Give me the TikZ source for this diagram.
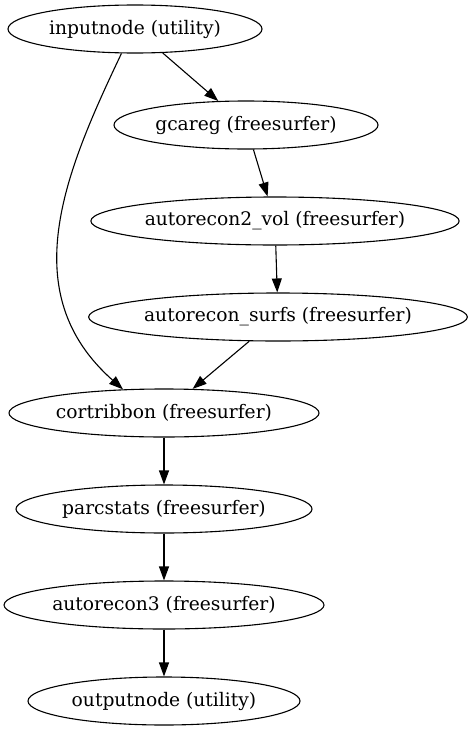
\documentclass[tikz,border=0pt]{standalone}
\usepackage{fontspec}
\setmainfont{DejaVu Serif}
\usetikzlibrary{shapes.geometric}
\usetikzlibrary{arrows.meta}

\begin{document}
\begin{tikzpicture}[x = 1pt, y = -1pt,
    proc/.style = {draw, ellipse, line width = 1.1pt, inner sep = 0pt,
      minimum height = 48pt, font = \fontsize{18.67}{22}\selectfont},
    flow/.style = {-{Triangle[length = 14pt, width = 10pt]}, line width = 1.1pt}]
  \useasboundingbox (0,0) rectangle (472,731);

  % nodes
  \node[proc, minimum width = 254pt] (inputnode) at (135, 29) {inputnode (utility)};
  \node[proc, minimum width = 264pt] (gcareg) at (246, 125) {gcareg (freesurfer)};
  \node[proc, minimum width = 368pt] (autorecon2vol) at (275, 221) {autorecon2\_vol (freesurfer)};
  \node[proc, minimum width = 378pt] (autoreconsurfs) at (278, 317) {autorecon\_surfs (freesurfer)};
  \node[proc, minimum width = 310pt] (cortribbon) at (164, 413) {cortribbon (freesurfer)};
  \node[proc, minimum width = 296pt] (parcstats) at (164, 509) {parcstats (freesurfer)};
  \node[proc, minimum width = 320pt] (autorecon3) at (164, 605) {autorecon3 (freesurfer)};
  \node[proc, minimum width = 272pt] (outputnode) at (164, 701) {outputnode (utility)};

  % edges
  \draw[flow] (inputnode) -- (gcareg);
  \draw[flow] (gcareg) -- (autorecon2vol);
  \draw[flow] (autorecon2vol) -- (autoreconsurfs);
  \draw[flow] (autoreconsurfs) -- (cortribbon);
  \draw[flow] (inputnode.241) .. controls (64.5, 173) and (14, 293) .. (cortribbon.150);
  \draw[flow] (cortribbon) -- (parcstats);
  \draw[flow] (parcstats) -- (autorecon3);
  \draw[flow] (autorecon3) -- (outputnode);
\end{tikzpicture}
\end{document}
